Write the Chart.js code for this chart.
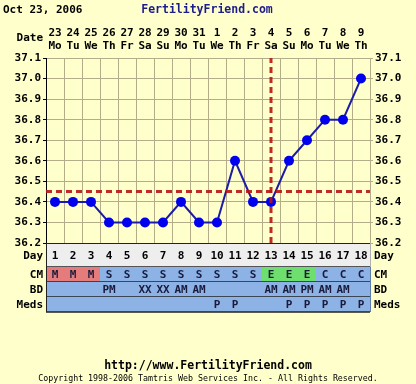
<!DOCTYPE html>
<html>
<head>
<meta charset="utf-8">
<script src="https://cdn.jsdelivr.net/npm/chart.js@4"></script>
<style>
  body { margin: 0; background: #ffffcc; }
  canvas { display: block; }
</style>
</head>
<body>
<canvas id="bbtChart" width="416" height="384"></canvas>
<script>
// chart data
var days = [1, 2, 3, 4, 5, 6, 7, 8, 9, 10, 11, 12, 13, 14, 15, 16, 17, 18];
var dates = ["23", "24", "25", "26", "27", "28", "29", "30", "31", "1", "2", "3", "4", "5", "6", "7", "8", "9"];
var weekdays = ["Mo", "Tu", "We", "Th", "Fr", "Sa", "Su", "Mo", "Tu", "We", "Th", "Fr", "Sa", "Su", "Mo", "Tu", "We", "Th"];
var temps = [36.4, 36.4, 36.4, 36.3, 36.3, 36.3, 36.3, 36.4, 36.3, 36.3, 36.6, 36.4, 36.4, 36.6, 36.7, 36.8, 36.8, 37.0];
var cm = ["M", "M", "M", "S", "S", "S", "S", "S", "S", "S", "S", "S", "E", "E", "E", "C", "C", "C"];
var bd = ["", "", "", "PM", "", "XX", "XX", "AM", "AM", "", "", "", "AM", "AM", "PM", "AM", "AM", ""];
var meds = ["", "", "", "", "", "", "", "", "", "P", "P", "", "", "P", "P", "P", "P", "P"];
var coverline = 36.45;
var ovulationDay = 13;
var yMin = 36.2;
var yMax = 37.1;

var gridColor = "#b4ad8a";
var mono = "'DejaVu Sans Mono', monospace";

function boundaries() {
  var b = [];
  for (var i = 0; i <= days.length; i++) b.push(days[0] - 0.5 + i);
  return b;
}

var tablePlugin = {
  id: "fertilityTable",
  afterDraw: function (chart) {
    var ctx = chart.ctx;
    var x = chart.scales.x;
    var area = chart.chartArea;
    ctx.save();

    // header
    ctx.fillStyle = "#000";
    ctx.font = "bold 11px " + mono;
    ctx.textAlign = "left";
    ctx.textBaseline = "middle";
    ctx.fillText("Oct 23, 2006", 3, 10);
    ctx.fillStyle = "#1c1c8c";
    ctx.font = "bold 11.5px " + mono;
    ctx.textAlign = "center";
    ctx.fillText("FertilityFriend.com", 207, 10);
    ctx.fillStyle = "#000";
    ctx.font = "bold 11px " + mono;
    ctx.textAlign = "right";
    ctx.fillText("Date", 43, 38);

    // table rows
    var rows = [
      { label: "Day", top: area.bottom, h: 24, vals: days },
      { label: "CM", top: area.bottom + 24, h: 15, vals: cm },
      { label: "BD", top: area.bottom + 39, h: 15, vals: bd },
      { label: "Meds", top: area.bottom + 54, h: 15, vals: meds }
    ];
    rows.forEach(function (row, r) {
      days.forEach(function (d, i) {
        var left = x.getPixelForValue(d - 0.5);
        var right = x.getPixelForValue(d + 0.5);
        var bg = "#8cb2e6";
        if (r === 0) bg = "#eeeeee";
        if (r === 1 && row.vals[i] === "M") bg = "#e57c7c";
        if (r === 1 && row.vals[i] === "E") bg = "#6ede6e";
        ctx.fillStyle = bg;
        ctx.fillRect(left, row.top, right - left, row.h);
        ctx.strokeStyle = r === 0 ? "#b0b0b0" : "#5e7ea8";
        ctx.lineWidth = 1;
        ctx.beginPath();
        ctx.moveTo(Math.round(right) + 0.5, row.top);
        ctx.lineTo(Math.round(right) + 0.5, row.top + row.h);
        ctx.stroke();
        ctx.fillStyle = r === 0 ? "#000" : "#1a1a3a";
        ctx.font = "bold 11px " + mono;
        ctx.textAlign = "center";
        ctx.fillText(String(row.vals[i]), (left + right) / 2, row.top + row.h / 2 + 1);
      });
      ctx.fillStyle = "#000";
      ctx.font = "bold 11px " + mono;
      ctx.textAlign = "right";
      ctx.fillText(row.label, 43, row.top + row.h / 2 + 1);
      ctx.textAlign = "left";
      ctx.fillText(row.label, 374, row.top + row.h / 2 + 1);
      ctx.strokeStyle = "#222";
      ctx.lineWidth = 1.5;
      ctx.beginPath();
      ctx.moveTo(area.left, row.top + row.h);
      ctx.lineTo(area.right, row.top + row.h);
      ctx.stroke();
    });
    ctx.strokeStyle = "#222";
    ctx.lineWidth = 1;
    ctx.beginPath();
    ctx.moveTo(area.left + 0.5, area.bottom);
    ctx.lineTo(area.left + 0.5, area.bottom + 69);
    ctx.moveTo(area.left, area.bottom + 0.5);
    ctx.lineTo(area.right, area.bottom + 0.5);
    ctx.stroke();

    // footer
    ctx.fillStyle = "#000";
    ctx.textAlign = "center";
    ctx.font = "bold 11.5px " + mono;
    ctx.fillText("http://www.FertilityFriend.com", 208, 366);
    ctx.font = "8.3px " + mono;
    ctx.fillText("Copyright 1998-2006 Tamtris Web Services Inc. - All Rights Reserved.", 208, 379);
    ctx.restore();
  }
};

var ctx = document.getElementById("bbtChart").getContext("2d");
var bbtChart = new Chart(ctx, {
  type: "line",
  data: {
    datasets: [
      {
        label: "Coverline",
        data: [
          { x: days[0] - 0.5, y: coverline },
          { x: days[days.length - 1] + 0.5, y: coverline }
        ],
        borderColor: "rgba(185, 20, 20, 0.9)",
        borderWidth: 3,
        borderDash: [6, 4],
        pointRadius: 0,
        order: 0
      },
      {
        label: "Ovulation",
        data: [
          { x: ovulationDay, y: yMin },
          { x: ovulationDay, y: yMax }
        ],
        borderColor: "rgba(185, 20, 20, 0.9)",
        borderWidth: 3,
        borderDash: [6, 4],
        pointRadius: 0,
        order: 0
      },
      {
        label: "Temperature",
        data: days.map(function (d, i) {
          return { x: d, y: temps[i] };
        }),
        borderColor: "#1c1ca8",
        borderWidth: 2,
        pointRadius: 5,
        pointBackgroundColor: "#0000ee",
        pointBorderColor: "#0000ee",
        pointBorderWidth: 0,
        order: 1
      }
    ]
  },
  options: {
    responsive: false,
    animation: false,
    devicePixelRatio: 1,
    layout: { padding: { top: 0, left: 0, right: 0, bottom: 141 } },
    plugins: { legend: { display: false }, tooltip: { enabled: false } },
    scales: {
      x: {
        type: "linear",
        position: "bottom",
        min: days[0] - 0.5,
        max: days[days.length - 1] + 0.5,
        afterBuildTicks: function (s) {
          s.ticks = boundaries().map(function (v) {
            return { value: v };
          });
        },
        afterFit: function (s) {
          s.height = 0;
        },
        ticks: { display: false },
        grid: { color: gridColor, drawTicks: false },
        border: { display: false }
      },
      xTop: {
        type: "linear",
        position: "top",
        min: days[0] - 0.5,
        max: days[days.length - 1] + 0.5,
        afterBuildTicks: function (s) {
          s.ticks = days.map(function (v) {
            return { value: v };
          });
        },
        afterFit: function (s) {
          s.height = 58;
        },
        ticks: {
          autoSkip: false,
          maxRotation: 0,
          padding: -3,
          color: "#000",
          font: { family: mono, size: 11, weight: "bold", lineHeight: 1.2 },
          callback: function (v) {
            var i = days.indexOf(v);
            return [dates[i], weekdays[i]];
          }
        },
        grid: { display: false },
        border: { color: gridColor }
      },
      y: {
        position: "left",
        min: yMin,
        max: yMax,
        afterFit: function (s) {
          s.width = 46;
        },
        ticks: {
          stepSize: 0.1,
          padding: 2,
          color: "#000",
          font: { family: mono, size: 11, weight: "bold" },
          callback: function (v) {
            return v.toFixed(1);
          }
        },
        grid: { color: gridColor, tickLength: 3, tickColor: "#000" },
        border: { color: "#000" }
      },
      y2: {
        position: "right",
        min: yMin,
        max: yMax,
        afterFit: function (s) {
          s.width = 46;
        },
        ticks: {
          stepSize: 0.1,
          padding: 2,
          color: "#000",
          font: { family: mono, size: 11, weight: "bold" },
          callback: function (v) {
            return v.toFixed(1);
          }
        },
        grid: { drawOnChartArea: false, tickLength: 3, color: gridColor },
        border: { color: gridColor }
      }
    }
  },
  plugins: [tablePlugin]
});
</script>
</body>
</html>
